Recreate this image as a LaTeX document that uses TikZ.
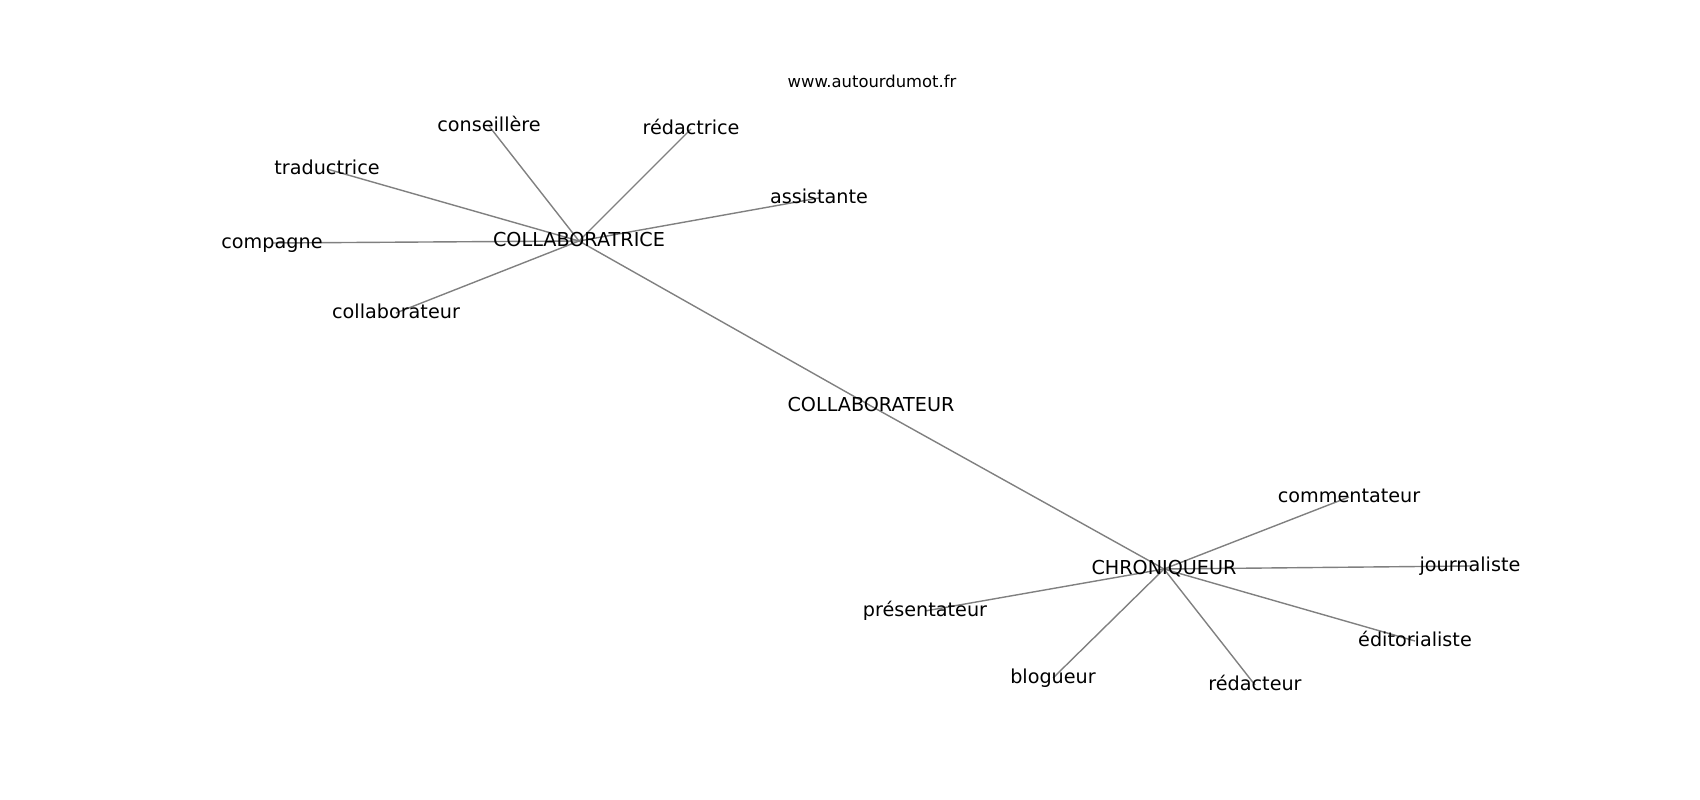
\documentclass[tikz,border=0pt]{standalone}
\usepackage{fontspec}
\setmainfont{DejaVu Sans}
\usetikzlibrary{backgrounds}
\tikzset{
  lbl/.style={font=\fontsize{19.2}{19.2}\selectfont, inner sep=0pt, text height=14.6pt, text depth=4pt, text=black},
  ttl/.style={font=\fontsize{16.4}{16.4}\selectfont, inner sep=0pt, text height=12.5pt, text depth=3.4pt, text=black},
  edge/.style={draw=gray, line width=1.4pt}
}
\begin{document}
\begin{tikzpicture}[x=1pt,y=-1pt]
\useasboundingbox (0,0) rectangle (1700,800);
\node[ttl] (www) at (872,82.8) {www.autourdumot.fr};
\node[lbl] (collaboratrice) at (579,241) {COLLABORATRICE};
\node[lbl] (conseillere) at (489,126) {conseillère};
\node[lbl] (redactrice) at (691,129) {rédactrice};
\node[lbl] (traductrice) at (327,169) {traductrice};
\node[lbl] (assistante) at (819,198) {assistante};
\node[lbl] (compagne) at (272,243) {compagne};
\node[lbl] (collabl) at (396,313) {collaborateur};
\node[lbl] (collaborateur) at (871,406) {COLLABORATEUR};
\node[lbl] (chroniqueur) at (1164,569) {CHRONIQUEUR};
\node[lbl] (commentateur) at (1349,497) {commentateur};
\node[lbl] (journaliste) at (1470,566) {journaliste};
\node[lbl] (editorialiste) at (1415,641) {éditorialiste};
\node[lbl] (redacteur) at (1255,685) {rédacteur};
\node[lbl] (blogueur) at (1053,678) {blogueur};
\node[lbl] (presentateur) at (925,611) {présentateur};
\begin{scope}[on background layer]
\foreach \n in {conseillere,redactrice,traductrice,assistante,compagne,collabl,collaborateur}
  \draw[edge] (collaboratrice.center) -- (\n.center);
\foreach \n in {collaborateur,commentateur,journaliste,editorialiste,redacteur,blogueur,presentateur}
  \draw[edge] (chroniqueur.center) -- (\n.center);
\end{scope}
\end{tikzpicture}
\end{document}
